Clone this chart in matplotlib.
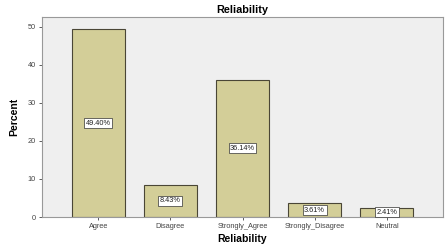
import matplotlib.pyplot as plt
import numpy as np

# data
categories = ['Agree', 'Disagree', 'Strongly_Agree', 'Strongly_Disagree', 'Neutral']
percent = [49.40, 8.43, 36.14, 3.61, 2.41]
labels = ['49.40%', '8.43%', '36.14%', '3.61%', '2.41%']

plt.rcParams['font.family'] = ['Liberation Sans', 'DejaVu Sans']

fig = plt.figure(figsize=(4.48, 2.47), dpi=100)
ax = fig.add_axes([42 / 448, 1 - 217 / 247, 401 / 448, 200 / 247])
ax.set_facecolor('#efefef')

x = np.arange(len(categories))
ax.bar(x, percent, width=0.74, color='#d3ce98', edgecolor='#4a4636', linewidth=0.8, zorder=2)

for xi, v, lab in zip(x, percent, labels):
    ax.text(xi, v / 2, lab, ha='center', va='center', fontsize=5.3, color='#222222', zorder=3,
            bbox=dict(boxstyle='square,pad=0.2', facecolor='white', edgecolor='#333333', linewidth=0.5))

ax.set_xlim(-0.78, len(categories) - 0.22)
ax.set_ylim(0, 52.6)
ax.set_xticks(x)
ax.set_xticklabels(categories, fontsize=5.3)
ax.set_yticks([0, 10, 20, 30, 40, 50])
ax.tick_params(axis='both', labelsize=5.3, length=2.5, width=0.6, colors='#444444', pad=2)

for s in ax.spines.values():
    s.set_color('#999999')
    s.set_linewidth(0.8)

ax.set_title('Reliability', fontsize=7.8, fontweight='bold', pad=3)
ax.set_xlabel('Reliability', fontsize=7.5, fontweight='bold', labelpad=3)
ax.set_ylabel('Percent', fontsize=7.5, fontweight='bold', labelpad=6)

plt.savefig('out.png', dpi=100)
